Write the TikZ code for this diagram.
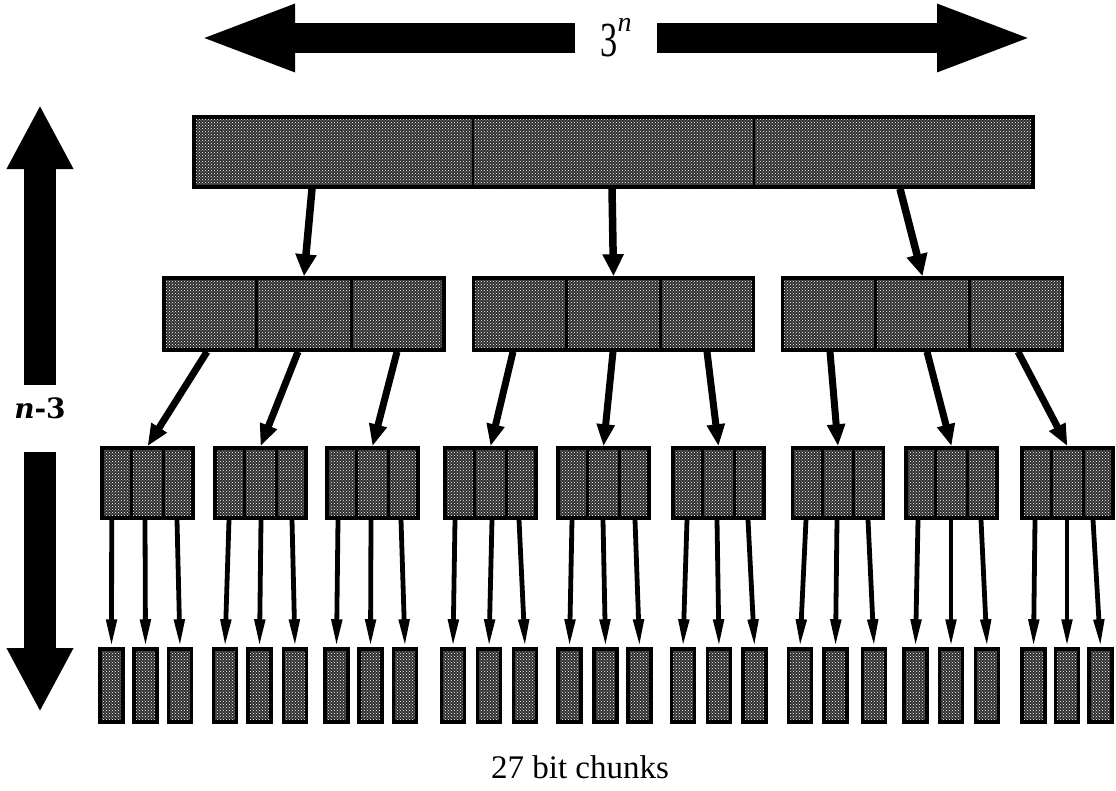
\documentclass[tikz,border=0pt]{standalone}
\usepackage{fontspec}
\usepackage{graphicx}
\setmainfont{Liberation Serif}
\newfontfamily\labelfont{DejaVu Serif}
\usetikzlibrary{arrows.meta,patterns,calc}
\begin{document}
\begin{tikzpicture}[x=1pt,y=-1pt,
  cell/.style={draw, line width=3.5pt, inner sep=0pt,
    preaction={fill=black!82}, pattern=crosshatch dots, pattern color=white},
  topcell/.style={cell, minimum width=839pt, minimum height=70pt},
  midcell/.style={cell, minimum width=280pt, minimum height=72pt},
  lowcell/.style={cell, minimum width=91pt, minimum height=70pt},
  leafcell/.style={cell, minimum width=23pt, minimum height=73pt},
  divider/.style={line width=2.8pt},
  toparrow/.style={line width=7.5pt, -{Triangle[length=22pt,width=20pt]}},
  midarrow/.style={line width=7pt, -{Triangle[length=22pt,width=17pt]}},
  leafarrow/.style={line width=4.8pt, -{Triangle[length=28pt,width=10pt]}},
  bigarrow/.style={line width=30pt, -{Triangle[length=98pt,width=60pt]}},
  bigvarrow/.style={line width=32pt, -{Triangle[length=64pt,width=62pt]}}
]
\useasboundingbox (0,0) rectangle (1116,790);

% width arrow with its label
\node[inner sep=0pt, minimum width=82pt] (t3n) at (616,38)
  {\scalebox{0.7}[1]{\fontsize{49}{49}\selectfont 3}\raisebox{25pt}{\fontsize{28}{28}\selectfont\itshape n}};
\coordinate (tL) at (197,38);
\coordinate (tR) at (1035,38);
\draw[bigarrow] (t3n.west) -- (tL);
\draw[bigarrow] (t3n.east) -- (tR);

% depth arrow with its label
\node[inner sep=0pt] (n3) at (40,408)
  {\labelfont\bfseries\fontsize{28}{28}\selectfont\itshape n\upshape-3};
\coordinate (vA) at (40,385);
\coordinate (vB) at (40,452);
\coordinate (uT) at (40,105);
\coordinate (dT) at (40,712);
\draw[bigvarrow] (vA) -- (uT);
\draw[bigvarrow] (vB) -- (dT);

% tree levels
\node[topcell] (top) at (613.5,152) {};
\foreach \c [count=\i] in {304,613.5,922.5}
  \node[midcell] (m\i) at (\c,314) {};
\foreach \c [count=\i] in {147.5,260.5,372.5,490.5,603.5,718.5,838,951.5,1067.5}
  \node[lowcell] (b\i) at (\c,483) {};
\foreach \c [count=\i] in {111.5,145.5,180, 225,259.5,295, 336.5,370.5,405,
                           453,489,525, 569.5,605.5,639.5, 683,719,754.5,
                           800,835.5,874, 915.5,951,987, 1033.5,1067,1100.5}
  \node[leafcell] (l\i) at (\c,685.5) {};

% splits into thirds
\foreach \n in {top,m1,m2,m3,b1,b2,b3,b4,b5,b6,b7,b8,b9} {
  \draw[divider] ($(\n.north west)!1/3!(\n.north east)$) -- ($(\n.south west)!1/3!(\n.south east)$);
  \draw[divider] ($(\n.north west)!2/3!(\n.north east)$) -- ($(\n.south west)!2/3!(\n.south east)$);
}

% connectors
\foreach \s [count=\k] in {-301.5,-1.5,286.5}
  \draw[toparrow] ([xshift=\s]top.south) -- (m\k.north);
\foreach \s [count=\k] in {-97,-6,93, -100.5,-0.5,93.5, -92.5,4.5,95.5} {
  \pgfmathtruncatemacro\g{div(\k-1,3)+1}
  \draw[midarrow] ([xshift=\s]m\g.south) -- (b\k.north);
}
\foreach \s [count=\k] in {-35.8,-2.5,29.5, -31.5,0.5,31.5, -34.5,-1.5,28.5,
                           -35.5,1.5,28.5, -31.5,-0.5,31.5, -31.5,-1.5,29.5,
                           -32,-1,30, -33.5,-0.5,29.5, -32.5,-0.5,25.5} {
  \pgfmathtruncatemacro\g{div(\k-1,3)+1}
  \draw[leafarrow] ([xshift=\s]b\g.south) -- (l\k.north);
}

\node[anchor=base] (cap) at (580,778) {\fontsize{33}{33}\selectfont 27 bit chunks};
\end{tikzpicture}
\end{document}
